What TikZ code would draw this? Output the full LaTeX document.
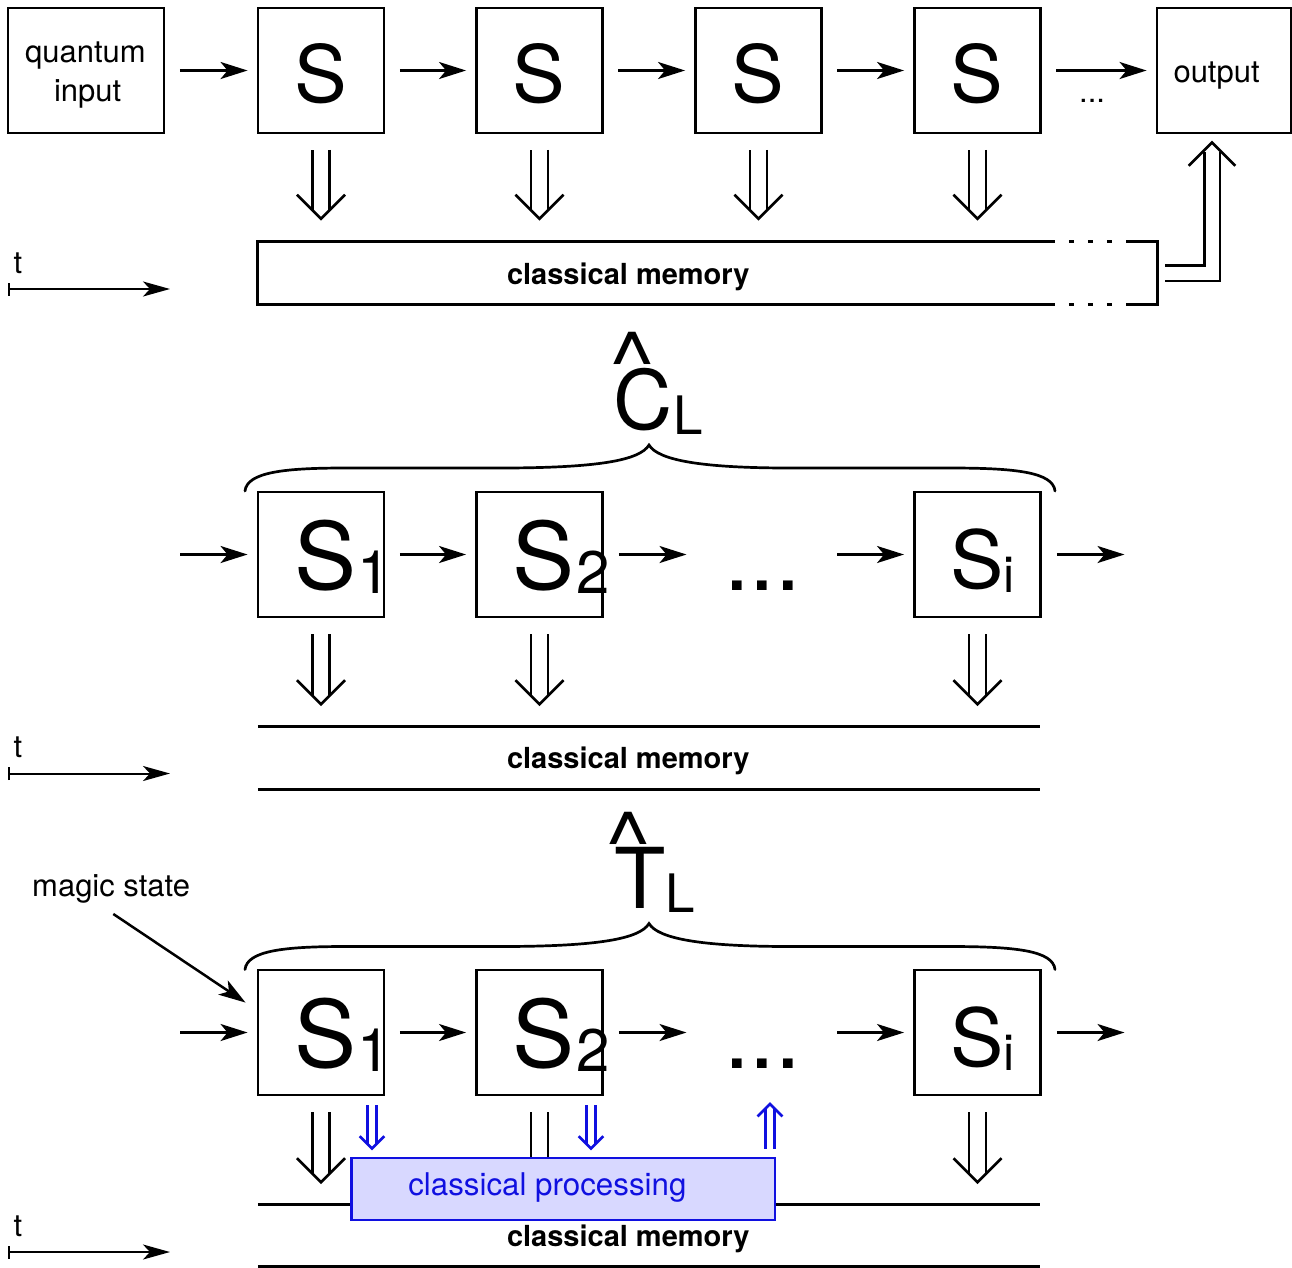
\documentclass[tikz,border=0pt]{standalone}
\usepackage{fontspec}
\setmainfont{TeX Gyre Heros}
\usetikzlibrary{arrows.meta,calc}
\definecolor{procblue}{HTML}{1010E0}
\definecolor{procfill}{HTML}{D8D8FF}
\newcommand\fs[1]{\fontsize{#1pt}{#1pt}\selectfont}
% text origin placed at node centre + (dx, dy)
\newcommand\putat[3]{\smash{\rlap{\kern#1pt\raisebox{#2pt}{#3}}}}
\newcommand\SOne{\putat{-27}{-34.5}{\fs{93}S}\putat{36.5}{-38.5}{\fs{60}1}}
\newcommand\STwo{\putat{-27}{-34.5}{\fs{93}S}\putat{36.5}{-38.5}{\fs{60}2}}
\newcommand\SEye{\putat{-27}{-33.5}{\fs{80}S}\putat{26}{-37.5}{\fs{50}i}}
\newcommand\TopS{\putat{-27}{-31.5}{\fs{79}S}}
\newcommand\MemText[1]{\putat{#1}{-11}{\fs{29}\bfseries classical memory}}
% double arrow: colour, start, tip, core gap, line offset, chevron size
\newcommand\dblarrow[6]{%
  \coordinate (dA) at #2; \coordinate (dB) at #3;
  \draw[draw=#1,line width=2.6pt,double=white,double distance=#4] (dA) -- ($(dB)!#5!(dA)$);
  \draw[draw=#1,line width=2.6pt,miter limit=10] ($(dB)!#6!45:(dA)$) -- (dB) -- ($(dB)!#6!-45:(dA)$);
}
\newcommand\bigdbl[2]{\dblarrow{black}{#1}{#2}{14.5pt}{9pt}{34pt}}
\newcommand\bluedbl[2]{\dblarrow{procblue}{#1}{#2}{6.2pt}{5pt}{17.5pt}}
\tikzset{
  boxnode/.style={draw=black,line width=2.9pt,inner sep=0pt,minimum width=126pt,minimum height=125pt},
  memnode/.style={inner sep=0pt,minimum height=62.5pt},
  procnode/.style={draw=procblue,fill=procfill,line width=2.9pt,inner sep=0pt,minimum width=423.5pt,minimum height=62pt,text=procblue},
  txt/.style={inner sep=0pt,anchor=base west,font=\fs{31}},
  flow/.style={draw=black,line width=2.5pt,-{Stealth[length=27pt,width=17pt,inset=7pt]},shorten <=14.5pt,shorten >=9pt},
  free/.style={draw=black,line width=2.5pt,-{Stealth[length=27pt,width=17pt,inset=7pt]}},
  timeline/.style={draw=black,line width=2pt,{Bar[width=13pt,line width=2pt]}-{Stealth[length=27pt,width=15pt,inset=7pt]}},
  rule/.style={draw=black,line width=2.9pt},
  brace/.style={draw=black,line width=2.7pt,line cap=round},
}
\begin{document}
\begin{tikzpicture}[x=1pt,y=-1pt]
\useasboundingbox (0,0) rectangle (1292,1267);

% ---- top row ----
\node[boxnode,minimum width=156pt] (input) at (86,70.5) {\putat{-61}{8.5}{\fs{31}quantum}\putat{-32}{-30.5}{\fs{31}input}};
\node[boxnode] (s1) at (321,70.5) {\TopS};
\node[boxnode] (s2) at (539.5,70.5) {\TopS};
\node[boxnode] (s3) at (758.5,70.5) {\TopS};
\node[boxnode] (s4) at (977.5,70.5) {\TopS};
\node[boxnode,minimum width=134pt] (out) at (1224,70.5) {\putat{-50.5}{-11.5}{\fs{31}output}};
\node[txt] (topdots) at (1079,102) {...};
\draw[flow] (input.east |- s1.west) -- (s1.west);
\draw[flow] (s1.east) -- (s2.west);
\draw[flow] (s2.east) -- (s3.west);
\draw[flow] (s3.east) -- (s4.west);
\draw[flow] (s4.east) -- (out.west);

\node[memnode,minimum width=899pt] (m1) at (707.5,273.25) {\MemText{-200.5}};
\draw[rule] ([xshift=797pt]m1.north west) -- (m1.north west) -- (m1.south west) -- ([xshift=797pt]m1.south west);
\draw[rule] ([xshift=-31pt]m1.north east) -- (m1.north east) -- (m1.south east) -- ([xshift=-31pt]m1.south east);
\draw[rule,dash pattern=on 5pt off 14pt] ([xshift=811pt]m1.north west) -- ([xshift=854pt]m1.north west);
\draw[rule,dash pattern=on 5pt off 14pt] ([xshift=811pt]m1.south west) -- ([xshift=854pt]m1.south west);
\foreach \n in {s1,s2,s3,s4}{
  \bigdbl{([yshift=-15.5pt]\n.south)}{([yshift=23pt]\n.south |- m1.north)}
}
\coordinate (outa) at ([xshift=8pt]m1.east);
\coordinate (outb) at ([xshift=-12pt,yshift=-8pt]out.south);
\coordinate (outc) at ([yshift=-60pt]outb);
\draw[draw=black,line width=2.6pt,double=white,double distance=13pt] (outa) -| ([yshift=-10pt]outb);
\draw[draw=black,line width=2.6pt,miter limit=10] ($(outb)!33pt!45:(outc)$) -- (outb) -- ($(outb)!33pt!-45:(outc)$);

\node[txt] (t1) at (13.5,273) {t};
\coordinate (t1a) at (8,289); \coordinate (t1b) at (170,289);
\draw[timeline] (t1a) -- (t1b);

% ---- C_L ----
\node[inner sep=0pt,anchor=base west] (chat) at (609,392) {\fs{85}\scalebox{1.15}[1]{\textasciicircum}};
\node[inner sep=0pt,anchor=base west] (cl) at (613,429) {\fs{82}C};
\node[inner sep=0pt,anchor=base west] (cls) at (673,434) {\fs{53}L};
\draw[brace] (245,491) .. controls (247,472) and (285,468) .. (345,468) -- (500,468)
  .. controls (600,468) and (640,460) .. (649,445)
  .. controls (658,460) and (700,468) .. (790,468) -- (950,468)
  .. controls (1015,468) and (1053,472) .. (1055,491);

% ---- middle row ----
\node[boxnode] (b1) at (321,554.5) {\SOne};
\node[boxnode] (b2) at (539.5,554.5) {\STwo};
\node[boxnode] (bi) at (977.5,554.5) {\SEye};
\node[inner sep=0pt,anchor=base west] (bdots) at (724,590) {\fs{92}...};
\coordinate (bin) at (180,554.5);
\coordinate (bd1) at (686.5,554.5);
\coordinate (bd2) at (837,554.5);
\coordinate (bout) at (1124.5,554.5);
\draw[free] (bin) -- ([xshift=-9pt]b1.west);
\draw[flow] (b1.east) -- (b2.west);
\draw[free] ([xshift=15pt]b2.east) -- (bd1);
\draw[free] (bd2) -- ([xshift=-9pt]bi.west);
\draw[free] ([xshift=15pt]bi.east) -- (bout);

\node[memnode,minimum width=782pt] (m2) at (649,757.75) {\MemText{-142}};
\draw[rule] (m2.north west) -- (m2.north east);
\draw[rule] (m2.south west) -- (m2.south east);
\foreach \n in {b1,b2,bi}{
  \bigdbl{([yshift=-16pt]\n.south)}{([yshift=22pt]\n.south |- m2.north)}
}
\node[txt] (t2) at (13.5,757.5) {t};
\coordinate (t2a) at (8,773.5); \coordinate (t2b) at (170,773.5);
\draw[timeline] (t2a) -- (t2b);

% ---- T_L ----
\node[inner sep=0pt,anchor=base west] (thut) at (605,872) {\fs{85}\scalebox{1.15}[1]{\textasciicircum}};
\node[inner sep=0pt,anchor=base west] (tl) at (614,908) {\fs{84}T};
\node[inner sep=0pt,anchor=base west] (tls) at (665,912) {\fs{53}L};
\draw[brace] (245,969.5) .. controls (247,950.5) and (285,946.5) .. (345,946.5) -- (500,946.5)
  .. controls (600,946.5) and (640,938.5) .. (649,923.5)
  .. controls (658,938.5) and (700,946.5) .. (790,946.5) -- (950,946.5)
  .. controls (1015,946.5) and (1053,950.5) .. (1055,969.5);
\node[txt] (magic) at (32,896) {magic state};

% ---- bottom row ----
\node[boxnode] (c1) at (321,1032.5) {\SOne};
\node[boxnode] (c2) at (539.5,1032.5) {\STwo};
\node[boxnode] (ci) at (977.5,1032.5) {\SEye};
\node[inner sep=0pt,anchor=base west] (cdots) at (724,1068) {\fs{92}...};
\coordinate (cin) at (180,1032.5);
\coordinate (cd1) at (686.5,1032.5);
\coordinate (cd2) at (837,1032.5);
\coordinate (cout) at (1124.5,1032.5);
\draw[free] (cin) -- ([xshift=-9pt]c1.west);
\draw[flow] (c1.east) -- (c2.west);
\draw[free] ([xshift=15pt]c2.east) -- (cd1);
\draw[free] (cd2) -- ([xshift=-9pt]ci.west);
\draw[free] ([xshift=15pt]ci.east) -- (cout);
\draw[free] ([xshift=-77pt,yshift=-11pt]magic.south east) -- ([xshift=-11pt,yshift=-34pt]c1.north west);

\node[memnode,minimum width=782pt,minimum height=61.5pt] (m3) at (649,1235.25) {\MemText{-142}};
\draw[rule] (m3.north west) -- (m3.north east);
\draw[rule] (m3.south west) -- (m3.south east);
\foreach \n in {c1,c2,ci}{
  \bigdbl{([yshift=-16pt]\n.south)}{([yshift=22pt]\n.south |- m3.north)}
}
\node[procnode] (proc) at (563.25,1189) {\putat{-155}{-6.5}{\fs{31.3}classical processing}};
\bluedbl{([xshift=51pt,yshift=-9pt]c1.south)}{([xshift=-191.25pt,yshift=8pt]proc.north)}
\bluedbl{([xshift=51.5pt,yshift=-9pt]c2.south)}{([xshift=27.75pt,yshift=8pt]proc.north)}
\coordinate (resout) at (770,1104);
\bluedbl{([xshift=206.75pt,yshift=8pt]proc.north)}{(resout)}

\node[txt] (t3) at (13.5,1236) {t};
\coordinate (t3a) at (8,1252); \coordinate (t3b) at (170,1252);
\draw[timeline] (t3a) -- (t3b);
\end{tikzpicture}
\end{document}
